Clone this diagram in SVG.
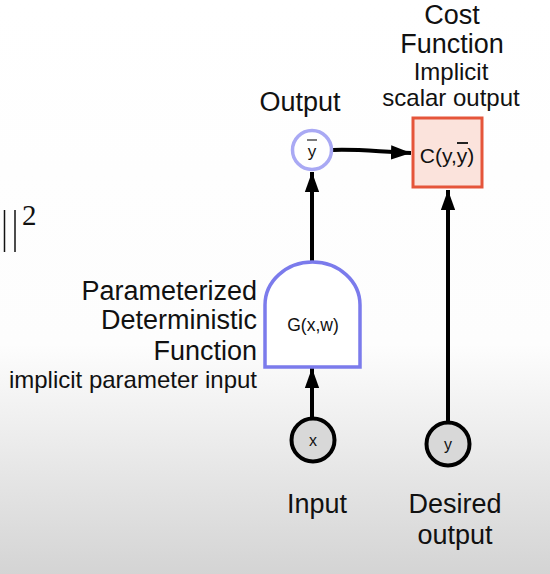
<svg xmlns="http://www.w3.org/2000/svg" width="550" height="574" viewBox="0 0 550 574">
<defs>
<linearGradient id="bg" x1="0" y1="0" x2="0" y2="1">
<stop offset="0" stop-color="#ffffff"/>
<stop offset="0.6" stop-color="#fdfdfd"/>
<stop offset="1" stop-color="#d4d4d4"/>
</linearGradient>
<marker id="ah" markerWidth="20" markerHeight="28" refX="28" refY="10" viewBox="0 0 28 20" markerUnits="userSpaceOnUse" orient="auto">
<path d="M0,0 L28,10 L0,20 Z" fill="#000"/>
</marker>
<style>
.lbl{font-family:"Liberation Sans",Arial,sans-serif;fill:#111;}
.big{font-size:27px;}
.sm{font-size:24px;}
.conn{stroke:#000;stroke-width:4;fill:none;}
</style>
</defs>
<rect x="0" y="0" width="550" height="574" fill="url(#bg)"/>

<g id="math">
<line x1="4.5" y1="210" x2="4.5" y2="252" stroke="#111" stroke-width="1.5"/>
<line x1="15" y1="210" x2="15" y2="252" stroke="#111" stroke-width="1.5"/>
<text x="22" y="225" font-family="'Liberation Serif',serif" font-size="29" fill="#111">2</text>
</g>

<g id="connectors">
<path class="conn" d="M312,262 V172" marker-end="url(#ah)"/>
<path class="conn" d="M312,418 V368" marker-end="url(#ah)"/>
<path class="conn" d="M448,422 V190" marker-end="url(#ah)"/>
<path class="conn" d="M333,150 C360,149 380,152 411,153" marker-end="url(#ah)"/>
</g>

<g id="node-ybar">
<circle cx="312" cy="150" r="19.5" fill="#fff" stroke="#a9a9f4" stroke-width="3.5"/>
<text class="lbl" x="312" y="157" style="font-size:17px" text-anchor="middle" fill="#333">y</text>
<line x1="307" y1="140" x2="317" y2="140" stroke="#333" stroke-width="1.3"/>
<text class="lbl big" x="300" y="111" text-anchor="middle">Output</text>
</g>

<g id="node-cost">
<rect x="413" y="118" width="69" height="69" fill="#fbe3dc" stroke="#e5553a" stroke-width="3"/>
<text class="lbl" x="447" y="163" style="font-size:21px" text-anchor="middle" fill="#222">C(y,y)</text>
<line x1="457" y1="143" x2="468" y2="143" stroke="#222" stroke-width="2"/>
<text class="lbl big" x="452" y="24" text-anchor="middle">Cost</text>
<text class="lbl big" x="452" y="53" text-anchor="middle">Function</text>
<text class="lbl sm" x="451" y="80" text-anchor="middle">Implicit</text>
<text class="lbl sm" x="451" y="106" text-anchor="middle">scalar output</text>
</g>

<g id="node-G">
<path d="M265,367 V305 A47.5,43 0 0 1 360,305 V367 Z" fill="#fff" stroke="#7b7bec" stroke-width="3.5"/>
<text class="lbl" x="313" y="331" style="font-size:17.5px" text-anchor="middle" fill="#333">G(x,w)</text>
<text class="lbl big" x="257" y="300" text-anchor="end">Parameterized</text>
<text class="lbl big" x="257" y="329" text-anchor="end">Deterministic</text>
<text class="lbl big" x="257" y="360" text-anchor="end">Function</text>
<text class="lbl sm" x="257" y="388" text-anchor="end">implicit parameter input</text>
</g>

<g id="node-x">
<circle cx="313" cy="440" r="21.5" fill="#d8d8d8" stroke="#000" stroke-width="4"/>
<text class="lbl" x="313" y="446" style="font-size:16px" text-anchor="middle" fill="#333">x</text>
<text class="lbl big" x="317" y="513" text-anchor="middle">Input</text>
</g>

<g id="node-y">
<circle cx="448" cy="444" r="21.5" fill="#d8d8d8" stroke="#000" stroke-width="4"/>
<text class="lbl" x="448" y="450" style="font-size:16px" text-anchor="middle" fill="#333">y</text>
<text class="lbl big" x="455" y="513" text-anchor="middle">Desired</text>
<text class="lbl big" x="455" y="544" text-anchor="middle">output</text>
</g>
</svg>
